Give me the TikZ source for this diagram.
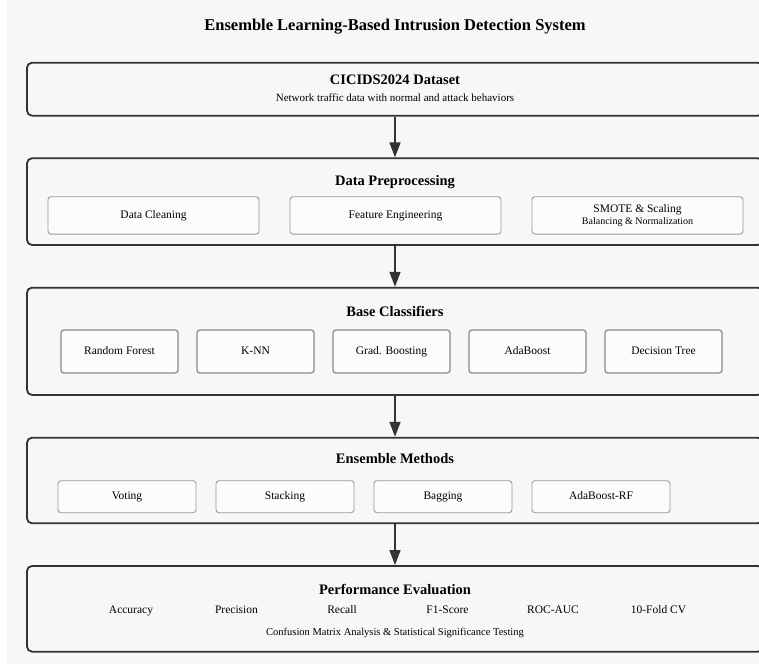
\documentclass[tikz,border=0pt]{standalone}
\usepackage{fontspec}
\setmainfont{Liberation Serif}
\usepackage{tikz}
\usetikzlibrary{positioning, arrows.meta}

\definecolor{pagebg}{HTML}{F7F7F7}
\definecolor{stageline}{HTML}{333333}
\definecolor{itemline}{HTML}{9A9A9A}

\tikzset{
    stage/.style={draw=stageline, line width=1.8pt, rounded corners=5pt, fill=pagebg, minimum width=736pt, inner sep=0pt},
    item/.style={draw=itemline, line width=0.9pt, rounded corners=3pt, fill=pagebg!40!white, inner sep=0pt, align=center, text height=1.6ex, text depth=0.3ex, font=\fontsize{11.5}{13}\selectfont},
    clf/.style={item, draw=itemline!90!black, line width=1.3pt, minimum width=117pt, minimum height=43pt},
    stagetitle/.style={font=\bfseries\fontsize{14.5}{16}\selectfont, inner sep=0pt},
    note/.style={font=\fontsize{11}{12}\selectfont, inner sep=0pt},
    metric/.style={font=\fontsize{11.5}{13}\selectfont, inner sep=0pt, text height=1.6ex, text depth=0.3ex},
    flow/.style={-{Triangle[length=15pt, width=11pt]}, line width=1.5pt, draw=stageline},
}

\begin{document}
\begin{tikzpicture}[x=1pt, y=-1pt]
    % --- 1. 畫布與背景 ---
    \useasboundingbox (0,0) rectangle (759,664);
    \clip (0,0) rectangle (759,664);
    \fill[white] (0,0) rectangle (759,664);
    \fill[pagebg] (7,0) rectangle (759,664);
    \coordinate (axis) at (395,0);

    % --- 2. 標題 ---
    \node[font=\bfseries\fontsize{16.5}{18}\selectfont, inner sep=0pt] (title) at (395,27) {Ensemble Learning-Based Intrusion Detection System};

    % --- 3. 資料集 ---
    \node[stage, minimum height=53pt] (ds) at (395,89.2) {};
    \node[stagetitle] (dsT) at (395,80) {CICIDS2024 Dataset};
    \node[note] (dsN) at (395,98) {Network traffic data with normal and attack behaviors};

    % --- 4. 資料前處理 ---
    \node[stage, minimum height=86.7pt] (prep) at (395,201.6) {};
    \node[stagetitle] (prepT) at (395,182) {Data Preprocessing};
    \node[item, minimum width=211pt, minimum height=37.3pt] (clean) at (153.5,215.4) {Data Cleaning};
    \node[item, minimum width=211pt, minimum height=37.3pt] (feat) at (395.5,215.4) {Feature Engineering};
    \node[item, minimum width=211pt, minimum height=37.3pt, text height={}, text depth={}] (smote) at (637.5,215.4) {SMOTE \& Scaling\\[-1pt]{\fontsize{10}{11}\selectfont Balancing \& Normalization}};

    % --- 5. 基礎分類器 ---
    \node[stage, minimum height=107.3pt] (base) at (395,341.3) {};
    \node[stagetitle] (baseT) at (395,311) {Base Classifiers};
    \node[clf] (rf) at (119.5,351.5) {Random Forest};
    \node[clf] (knn) at (255.5,351.5) {K-NN};
    \node[clf] (gb) at (391.5,351.5) {Grad. Boosting};
    \node[clf] (ada) at (527.5,351.5) {AdaBoost};
    \node[clf] (dt) at (663.5,351.5) {Decision Tree};

    % --- 6. 集成方法 ---
    \node[stage, minimum height=85.6pt] (ens) at (395,480.5) {};
    \node[stagetitle] (ensT) at (395,459) {Ensemble Methods};
    \node[item, minimum width=138pt, minimum height=32pt] (vote) at (127,496.7) {Voting};
    \node[item, minimum width=138pt, minimum height=32pt] (stack) at (285,496.7) {Stacking};
    \node[item, minimum width=138pt, minimum height=32pt] (bag) at (443,496.7) {Bagging};
    \node[item, minimum width=138pt, minimum height=32pt] (adarf) at (601,496.7) {AdaBoost-RF};

    % --- 7. 效能評估 ---
    \node[stage, minimum height=85.7pt] (perf) at (395,608.8) {};
    \node[stagetitle] (perfT) at (395,589) {Performance Evaluation};
    \node[metric] (acc) at (131,610.7) {Accuracy};
    \node[metric] (prec) at (236.5,610.7) {Precision};
    \node[metric] (rec) at (342,610.7) {Recall};
    \node[metric] (f1) at (447.5,610.7) {F1-Score};
    \node[metric] (auc) at (553,610.7) {ROC-AUC};
    \node[metric] (cv) at (658.5,610.7) {10-Fold CV};
    \node[note, font=\fontsize{10.5}{12}\selectfont] (perfN) at (395,632.7) {Confusion Matrix Analysis \& Statistical Significance Testing};

    % --- 8. 流程箭頭 ---
    \draw[flow] (ds.south -| axis) -- (prep.north -| axis);
    \draw[flow] (prep.south -| axis) -- (base.north -| axis);
    \draw[flow] (base.south -| axis) -- (ens.north -| axis);
    \draw[flow] (ens.south -| axis) -- (perf.north -| axis);
\end{tikzpicture}
\end{document}
